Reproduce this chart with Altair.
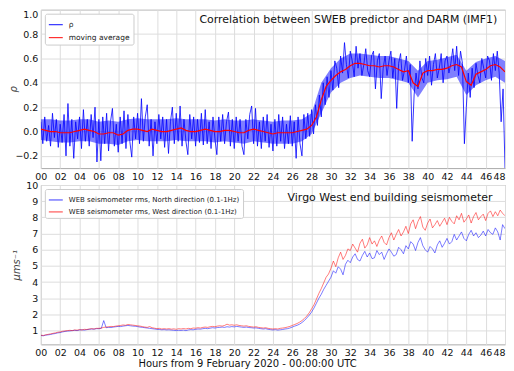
import altair as alt
import pandas as pd

# ---------------- data ----------------
rho_step = 0.2  # hours between rho samples
rho_values = [
    0.08, -0.10, 0.12, -0.08, 0.05,
    -0.12, 0.15, -0.05, 0.10, -0.13,
    0.06, -0.09, 0.14, -0.20, 0.23,
    -0.12, 0.10, -0.22, 0.08, -0.06,
    0.12, -0.14, 0.18, -0.08, 0.10,
    -0.12, 0.14, -0.05, 0.20, -0.25,
    0.10, -0.24, 0.12, -0.10, 0.15,
    -0.16, 0.08, 0.19, -0.12, 0.06,
    -0.17, 0.12, -0.10, 0.17, -0.14,
    0.14, -0.08, -0.21, 0.12, -0.06,
    0.15, -0.10, 0.27, -0.08, 0.12,
    0.22, -0.12, 0.10, -0.20, 0.08,
    -0.10, 0.14, -0.06, 0.12, -0.13,
    0.10, -0.18, 0.08, 0.20, -0.10,
    0.15, -0.08, 0.21, -0.12, 0.10,
    -0.08, -0.19, 0.14, -0.06, 0.12,
    -0.12, 0.10, -0.09, 0.15, -0.11,
    0.18, -0.10, 0.08, -0.14, 0.12,
    -0.06, -0.19, 0.12, -0.08, 0.14,
    -0.10, 0.08, 0.16, -0.12, 0.10,
    -0.14, 0.12, -0.08, 0.10, -0.12,
    -0.19, 0.10, -0.06, 0.14, 0.21,
    -0.10, 0.19, -0.12, 0.08, -0.14,
    0.12, -0.08, 0.14, -0.13, 0.06,
    -0.16, 0.10, -0.12, 0.14, -0.08,
    0.12, -0.14, 0.06, -0.10, 0.13,
    -0.12, 0.08, -0.22, 0.12, -0.10,
    -0.20, 0.14, -0.06, 0.15, -0.04,
    0.18, -0.02, 0.22, 0.05, 0.30,
    0.12, 0.40, 0.22, 0.45, 0.28,
    0.50, 0.34, 0.58, 0.52, 0.36,
    0.62, 0.48, 0.73, 0.55, 0.44,
    0.66, 0.58, 0.45, 0.70, 0.52,
    0.64, 0.46, 0.55, 0.68, 0.50,
    0.45, 0.62, 0.66, 0.35, 0.58,
    0.64, 0.27, 0.52, 0.62, 0.46,
    0.58, 0.66, 0.44, 0.60, 0.19,
    0.56, 0.64, 0.42, 0.50, 0.62,
    0.40, 0.55, -0.08, 0.30, 0.48,
    0.35, 0.58, 0.44, 0.40, 0.60,
    0.46, 0.62, 0.38, 0.55, 0.64,
    0.44, 0.52, 0.64, 0.40, 0.58,
    0.62, 0.48, 0.56, 0.68, 0.50,
    0.70, 0.46, 0.66, 0.56, -0.10,
    0.20, 0.48, 0.28, 0.52, 0.36,
    0.56, 0.46, 0.40, 0.60, 0.52,
    0.44, 0.62, 0.58, 0.42, 0.64,
    0.50, 0.66, 0.48, 0.08, 0.35,
    -0.30,
]

# dense core of the rho noise band, one value per hour (0..48)
core_hours = list(range(0, 49))
core_hi = [
    0.10, 0.10, 0.09, 0.09, 0.10, 0.10, 0.08, 0.09, 0.08, 0.10,
    0.11, 0.10, 0.10, 0.10, 0.11, 0.10, 0.10, 0.10, 0.09, 0.10,
    0.09, 0.09, 0.10, 0.09, 0.08, 0.09, 0.09, 0.10, 0.15, 0.40,
    0.52, 0.60, 0.64, 0.64, 0.63, 0.62, 0.62, 0.60, 0.58, 0.50,
    0.58, 0.59, 0.61, 0.63, 0.50, 0.57, 0.60, 0.62, 0.58,
]
core_lo = [
    -0.07, -0.08, -0.09, -0.09, -0.08, -0.08, -0.10, -0.10, -0.11, -0.08,
    -0.07, -0.08, -0.08, -0.08, -0.07, -0.08, -0.08, -0.08, -0.09, -0.08,
    -0.09, -0.10, -0.08, -0.09, -0.10, -0.10, -0.10, -0.08, -0.02, 0.15,
    0.32, 0.40, 0.44, 0.46, 0.45, 0.44, 0.44, 0.42, 0.40, 0.28,
    0.40, 0.42, 0.43, 0.45, 0.30, 0.38, 0.42, 0.45, 0.40,
]

ma_step = 0.5  # hours between moving-average samples
ma_values = [
    0.02, 0.01, 0.00, 0.00, -0.01, -0.01, -0.01, 0.00, 0.01, 0.02,
    0.01, 0.00, -0.02, -0.02, -0.01, -0.01, -0.03, -0.02, 0.01, 0.02,
    0.02, 0.01, 0.00, 0.02, 0.01, 0.00, 0.00, 0.01, 0.02, 0.03,
    0.01, 0.00, 0.00, 0.01, 0.02, 0.01, 0.00, 0.00, 0.01, 0.01,
    0.00, -0.01, -0.01, 0.01, 0.02, 0.01, 0.00, -0.01, -0.02, -0.01,
    -0.01, -0.01, -0.01, 0.00, 0.01, 0.02, 0.05, 0.12, 0.26, 0.37,
    0.42, 0.46, 0.49, 0.51, 0.54, 0.56, 0.56, 0.55, 0.54, 0.54,
    0.53, 0.54, 0.54, 0.53, 0.51, 0.49, 0.50, 0.40, 0.37, 0.48,
    0.50, 0.50, 0.51, 0.51, 0.52, 0.54, 0.55, 0.53, 0.41, 0.38,
    0.47, 0.49, 0.51, 0.54, 0.55, 0.53, 0.49,
]

seis_step = 0.25  # hours between seismometer samples
north_values = [
    0.70, 0.68, 0.72, 0.74, 0.76, 0.80, 0.82, 0.86,
    0.88, 0.92, 0.95, 0.97, 0.98, 1.00, 1.02, 1.00,
    1.04, 1.05, 1.03, 1.06, 1.08, 1.10, 1.09, 1.12,
    1.12, 1.14, 1.62, 1.18, 1.20, 1.19, 1.22, 1.24,
    1.26, 1.25, 1.28, 1.30, 1.32, 1.30, 1.28, 1.27,
    1.25, 1.22, 1.20, 1.18, 1.16, 1.14, 1.12, 1.10,
    1.08, 1.07, 1.05, 1.06, 1.04, 1.05, 1.03, 1.02,
    1.00, 1.02, 1.01, 1.03, 1.00, 1.04, 1.06, 1.05,
    1.08, 1.10, 1.09, 1.12, 1.14, 1.12, 1.15, 1.18,
    1.16, 1.19, 1.20, 1.22, 1.20, 1.24, 1.22, 1.25,
    1.23, 1.26, 1.24, 1.22, 1.20, 1.22, 1.19, 1.18,
    1.16, 1.17, 1.14, 1.12, 1.10, 1.12, 1.08, 1.06,
    1.04, 1.06, 1.03, 1.05, 1.07, 1.10, 1.12, 1.16,
    1.22, 1.28, 1.33, 1.40, 1.50, 1.62, 1.78, 1.95,
    2.15, 2.40, 2.70, 3.00, 3.25, 3.55, 3.80, 4.05,
    4.30, 4.70, 4.55, 4.95, 4.80, 4.45, 5.10, 5.35,
    5.20, 5.55, 5.75, 5.40, 5.30, 5.65, 5.90, 5.55,
    5.80, 5.45, 5.50, 5.95, 5.70, 5.85, 5.40, 5.75,
    6.05, 5.85, 5.60, 5.70, 6.15, 6.00, 5.75, 6.25,
    6.05, 6.50, 6.35, 5.95, 6.45, 6.75, 6.25, 6.00,
    5.85, 6.20, 6.05, 5.80, 6.30, 6.55, 6.15, 6.40,
    6.70, 6.35, 6.50, 6.95, 6.60, 6.85, 7.10, 6.70,
    6.55, 6.95, 7.20, 6.85, 7.05, 6.75, 6.90, 7.15,
    6.85, 7.25, 7.05, 6.95, 7.35, 7.10, 6.60, 7.55,
    7.30,
]
west_values = [
    0.72, 0.70, 0.74, 0.77, 0.80, 0.83, 0.86, 0.90,
    0.92, 0.96, 0.98, 1.00, 1.02, 1.00, 1.04, 1.03,
    1.06, 1.04, 1.08, 1.07, 1.10, 1.12, 1.10, 1.14,
    1.14, 1.16, 1.20, 1.22, 1.24, 1.26, 1.25, 1.28,
    1.30, 1.32, 1.35, 1.33, 1.38, 1.36, 1.34, 1.32,
    1.30, 1.28, 1.25, 1.22, 1.20, 1.25, 1.18, 1.15,
    1.12, 1.14, 1.10, 1.12, 1.10, 1.12, 1.09, 1.11,
    1.08, 1.12, 1.10, 1.13, 1.10, 1.14, 1.12, 1.16,
    1.15, 1.18, 1.16, 1.20, 1.22, 1.20, 1.24, 1.26,
    1.24, 1.28, 1.30, 1.28, 1.32, 1.40, 1.34, 1.36,
    1.33, 1.36, 1.32, 1.30, 1.28, 1.30, 1.26, 1.24,
    1.22, 1.24, 1.20, 1.18, 1.16, 1.18, 1.14, 1.12,
    1.10, 1.12, 1.10, 1.14, 1.16, 1.18, 1.22, 1.26,
    1.32, 1.38, 1.44, 1.52, 1.62, 1.75, 1.90, 2.10,
    2.35, 2.60, 2.95, 3.30, 3.60, 3.95, 4.30, 4.50,
    4.85, 5.30, 4.95, 5.50, 5.85, 5.40, 5.65, 6.05,
    5.95, 6.35, 6.10, 5.85, 6.40, 6.65, 6.10, 6.30,
    6.75, 6.35, 6.55, 6.20, 6.60, 6.85, 6.45, 6.30,
    6.75, 7.05, 6.60, 6.95, 7.25, 6.85, 7.10, 7.45,
    7.00, 7.60, 7.85, 7.30, 7.75, 8.05, 7.40, 7.20,
    7.65, 7.90, 7.35, 7.55, 7.80, 7.45, 7.70, 7.95,
    7.55, 8.00, 7.75, 7.60, 8.10, 7.85, 8.25, 7.70,
    7.90, 8.15, 7.65, 8.05, 8.30, 7.85, 8.05, 8.20,
    7.80, 8.25, 8.40, 8.05, 8.35, 8.10, 8.45, 8.25,
    8.10,
]

x_ticks = list(range(0, 49, 2))
rho_ticks = [-0.2, 0.0, 0.2, 0.4, 0.6, 0.8, 1.0]
seis_ticks = list(range(1, 11))

top_series = ["ρ", "moving average"]
top_colors = ["#0000ff", "#ff0000"]
bottom_series = [
    "WEB seismometer rms, North direction (0.1-1Hz)",
    "WEB seismometer rms, West direction (0.1-1Hz)",
]
bottom_colors = ["#0000ff", "#ff0000"]

# in-panel titles: text, anchor hour, anchor value
top_title = ["Correlation between SWEB predictor and DARM (IMF1)", 47.2, 0.89]
bottom_title = ["Virgo West end building seismometer", 46.7, 9.0]
x_title = "Hours from 9 February 2020 - 00:00:00 UTC"

# ---------------- tables ----------------
def frame(values, step, name):
    return pd.DataFrame({
        "hour": [round(i * step, 3) for i in range(len(values))],
        "value": values,
        "series": name,
    })

rho_df = frame(rho_values, rho_step, top_series[0])
ma_df = frame(ma_values, ma_step, top_series[1])
core_df = pd.DataFrame({"hour": core_hours, "value": core_lo, "hi": core_hi})
north_df = frame(north_values, seis_step, bottom_series[0])
west_df = frame(west_values, seis_step, bottom_series[1])
top_title_df = pd.DataFrame({"hour": [top_title[1]], "value": [top_title[2]], "text": [top_title[0]]})
bot_title_df = pd.DataFrame({"hour": [bottom_title[1]], "value": [bottom_title[2]], "text": [bottom_title[0]]})

FONT = "DejaVu Sans"
W, H_TOP, H_BOT = 466, 159, 160

label_align_48 = {"condition": {"test": "datum.value == 48", "value": "right"}, "value": "center"}
x_scale = alt.Scale(domain=[0, 48], nice=False, zero=False)
x_top = alt.X("hour:Q", scale=x_scale, axis=alt.Axis(
    values=x_ticks, labelExpr="(datum.value < 10 ? '0' : '') + datum.value",
    title=None, labelAlign=label_align_48))
x_bot = alt.X("hour:Q", scale=x_scale, axis=alt.Axis(
    values=x_ticks, labelExpr="(datum.value < 10 ? '0' : '') + datum.value",
    title=x_title, titleX=207, titleFontSize=10, titleFontWeight="normal",
    titlePadding=2, titleColor="#111", labelAlign=label_align_48))


def legend(size):
    return alt.Legend(
        orient="top-left", offset=4, title=None,
        fillColor="white", strokeColor="#cccccc", cornerRadius=2,
        padding=3, rowPadding=1, labelFontSize=size, labelFont=FONT,
        labelColor="#222", symbolType="stroke", symbolSize=196,
        symbolStrokeWidth=1.2, labelOffset=5, labelLimit=400,
    )

top_scale = alt.Scale(domain=[-0.3, 1.0], nice=False, zero=False)
top_color = alt.Color("series:N", scale=alt.Scale(domain=top_series, range=top_colors),
                      legend=legend(7.5))
top_y = alt.Y(
    "value:Q", scale=top_scale,
    axis=alt.Axis(values=rho_ticks, format=".1f", title="ρ", titleFontStyle="italic",
                  titleFontWeight="normal", titleFontSize=10, titleColor="#444",
                  titleX=-32, titleBaseline="top", labelFlush=True),
)

core_band = alt.Chart(core_df).mark_area(color="#0000ff", opacity=0.5, clip=True).encode(
    x=x_top, y=top_y, y2="hi:Q")
rho_line = alt.Chart(rho_df).mark_line(strokeWidth=1.0, opacity=0.8, clip=True).encode(
    x=x_top, y=top_y, color=top_color)
ma_line = alt.Chart(ma_df).mark_line(strokeWidth=1.2, clip=True).encode(
    x=x_top, y=top_y, color=top_color)
top_text = alt.Chart(top_title_df).mark_text(
    align="right", baseline="alphabetic", fontSize=11, font=FONT, color="#111").encode(
    x=x_top, y=top_y, text="text:N")

top = alt.layer(core_band, rho_line, ma_line, top_text).properties(width=W, height=H_TOP)

bot_scale = alt.Scale(domain=[0.15, 10], nice=False, zero=False)
bot_color = alt.Color("series:N", scale=alt.Scale(domain=bottom_series, range=bottom_colors),
                      legend=legend(7))
bot_y = alt.Y(
    "value:Q", scale=bot_scale,
    axis=alt.Axis(values=seis_ticks, format="d", title="μms⁻¹", titleFontStyle="italic",
                  titleFontWeight="normal", titleFontSize=10, titleColor="#444",
                  titleX=-29, titleBaseline="top"),
)

north_line = alt.Chart(north_df).mark_line(strokeWidth=0.8, opacity=0.65, clip=True).encode(
    x=x_bot, y=bot_y, color=bot_color)
west_line = alt.Chart(west_df).mark_line(strokeWidth=0.8, opacity=0.65, clip=True).encode(
    x=x_bot, y=bot_y, color=bot_color)
bot_text = alt.Chart(bot_title_df).mark_text(
    align="right", baseline="alphabetic", fontSize=11, font=FONT, color="#111").encode(
    x=x_bot, y=bot_y, text="text:N")

bottom = alt.layer(north_line, west_line, bot_text).properties(width=W, height=H_BOT)

chart = alt.vconcat(top, bottom, spacing=17, bounds="flush").resolve_scale(
    color="independent", y="independent"
).properties(
    padding={"left": 0, "top": 0, "right": 0, "bottom": 0},
    background="white",
).configure_view(
    stroke="#aaaaaa", strokeWidth=1,
).configure_axis(
    grid=True, gridColor="#dddddd", gridWidth=1, domain=False, ticks=False,
    tickSize=0, labelFont=FONT, labelFontSize=9.5, labelColor="#111",
    labelPadding=3, titleFont=FONT,
)

chart.save("out.html", embed_options={"renderer": "svg", "actions": False})
